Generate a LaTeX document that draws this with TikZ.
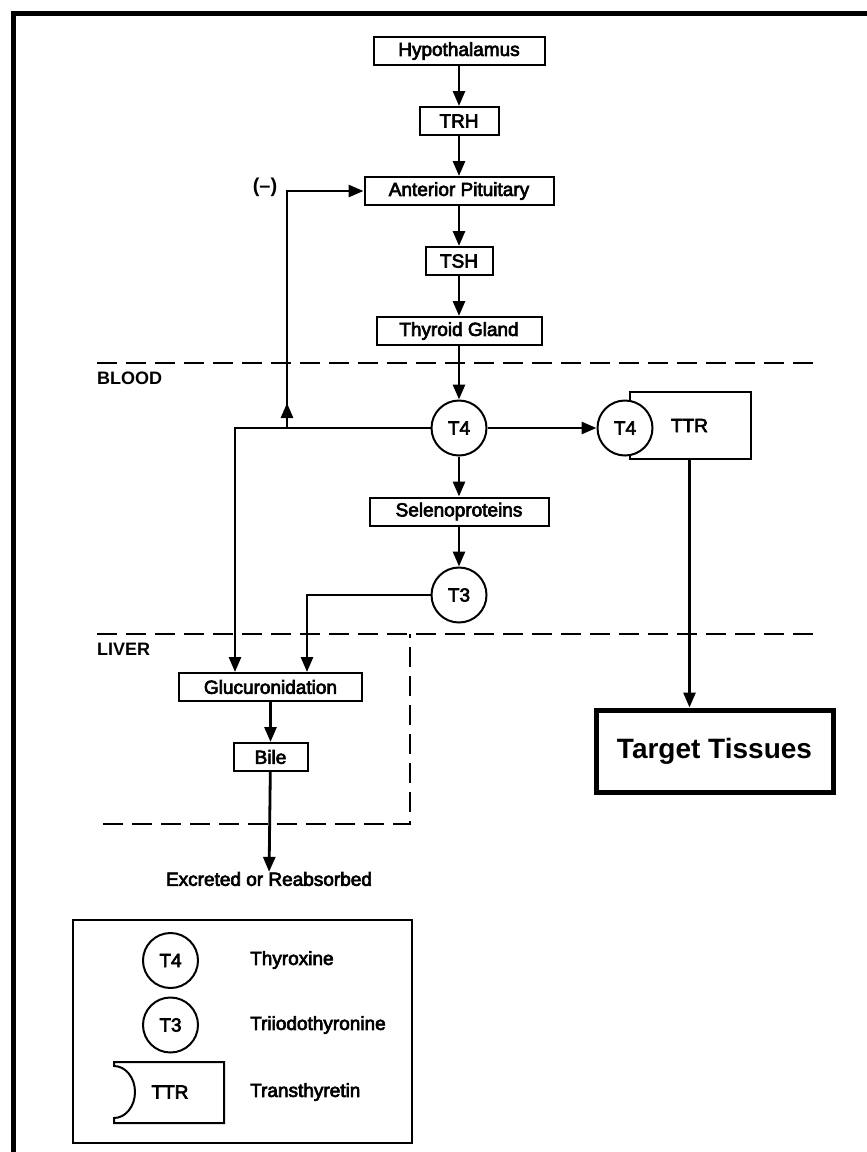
\documentclass[tikz,border=0pt]{standalone}
\usepackage{fontspec}
\setmainfont{Liberation Sans}
\newfontfamily\lblfont{Liberation Sans}[FakeBold=3.5]
\usetikzlibrary{arrows.meta,positioning}

\begin{document}
\begin{tikzpicture}[x=1pt, y=-1pt, >={Triangle[length=15pt,width=12pt]},
  node distance=40pt,
  every node/.style={font=\lblfont\fontsize{19}{22}\selectfont},
  box/.style={draw, line width=2pt, minimum height=28pt, inner sep=2pt},
  mol/.style={draw, circle, line width=2pt, minimum size=55pt, inner sep=0pt},
  link/.style={line width=2.8pt},
  zone/.style={line width=2.2pt, dash pattern=on 20pt off 9pt},
  tag/.style={font=\normalfont\bfseries\fontsize{18}{20}\selectfont, inner sep=0pt}]
  \useasboundingbox (0,0) rectangle (867,1152);

  % Frame
  \draw[line width=5pt] (13,1160) -- (13,13) -- (875,13);

  % Define nodes
  \node[box, minimum width=171pt] (hyp) at (459,51) {Hypothalamus};
  \node[box, minimum width=79pt, below=of hyp] (trh) {TRH};
  \node[box, minimum width=189pt, below=of trh] (ap) {Anterior Pituitary};
  \node[box, minimum width=67pt, below=of ap] (tsh) {TSH};
  \node[box, minimum width=165pt, below=of tsh] (tg) {Thyroid Gland};
  \node[mol] (t4) at (459,428) {T4};
  \node[mol] (t4b) at (625,428) {T4};
  \node[minimum width=123pt, minimum height=67pt, inner sep=0pt] (ttr) at (689.5,425.5) {TTR};
  \node[box, minimum width=179pt, below=of t4] (sel) {Selenoproteins};
  \node[mol, below=of sel] (t3) {T3};
  \node[box, minimum width=183pt] (gluc) at (270.5,687) {Glucuronidation};
  \node[box, minimum width=74pt, below=of gluc] (bile) {Bile};
  \node[inner sep=0pt] (excr) at (269,879) {Excreted or Reabsorbed};
  \node[box, line width=5pt, minimum width=237pt, minimum height=82pt,
    font=\normalfont\bfseries\fontsize{28}{32}\selectfont] (target) at (714.5,751) {Target Tissues};
  \node[tag, font=\normalfont\bfseries\fontsize{20}{22}\selectfont] (neg) at (265,187) {(–)};
  \coordinate (fb) at (287,428);

  % Compartments
  \draw[zone] (97,363) -- (821,363);
  \draw[zone] (97,634) -- (821,634);
  \draw[zone] (103,824) -- (410,824) -- (410,634);
  \node[tag, anchor=west] (blood) at (97,378) {BLOOD};
  \node[tag, anchor=west] (liver) at (97,649) {LIVER};

  % TTR carrier
  \draw[line width=2pt] (t4b.80) |- (ttr.north east) -- (ttr.south east) -| (t4b.-80);

  % Draw arrows
  \draw[link,->] (hyp) -- (trh);
  \draw[link,->] (trh) -- (ap);
  \draw[link,->] (ap) -- (tsh);
  \draw[link,->] (tsh) -- (tg);
  \draw[link,->] (tg) -- (t4);
  \draw[link,->] (t4) -- (t4b);
  \draw[link,->] (t4) -- (sel);
  \draw[link,->] (sel) -- (t3);
  \draw[link,->] (t4) -| ([xshift=-35.5pt]gluc.north);
  \draw[link,->] (t3) -| ([xshift=36.5pt]gluc.north);
  \draw[link,->] (fb) |- (ap);
  \draw[link,->] (fb) -- ++(0,-25);
  \draw[link,->] (gluc) -- (bile);
  \draw[link,->] (bile) -- (excr);
  \draw[link,->] (ttr.south) -- (ttr.south |- target.north);

  % Legend
  \draw[line width=1.5pt] (73,920) rectangle (412,1143);
  \node[mol] (lt4) at (170.5,960.5) {T4};
  \node[mol] (lt3) at (170.5,1025) {T3};
  \node (lttr) at (170,1092) {TTR};
  \draw[line width=2pt] (224,1062) -- (114,1062) -- (114,1066)
    arc[start angle=-90, end angle=90, x radius=21, y radius=26]
    -- (114,1123) -- (224,1123) -- cycle;
  \node[anchor=west, inner sep=0pt] (thx) at (250,960) {Thyroxine};
  \node[anchor=west, inner sep=0pt] (tri) at (250,1025) {Triiodothyronine};
  \node[anchor=west, inner sep=0pt] (trn) at (250,1092) {Transthyretin};
\end{tikzpicture}
\end{document}
